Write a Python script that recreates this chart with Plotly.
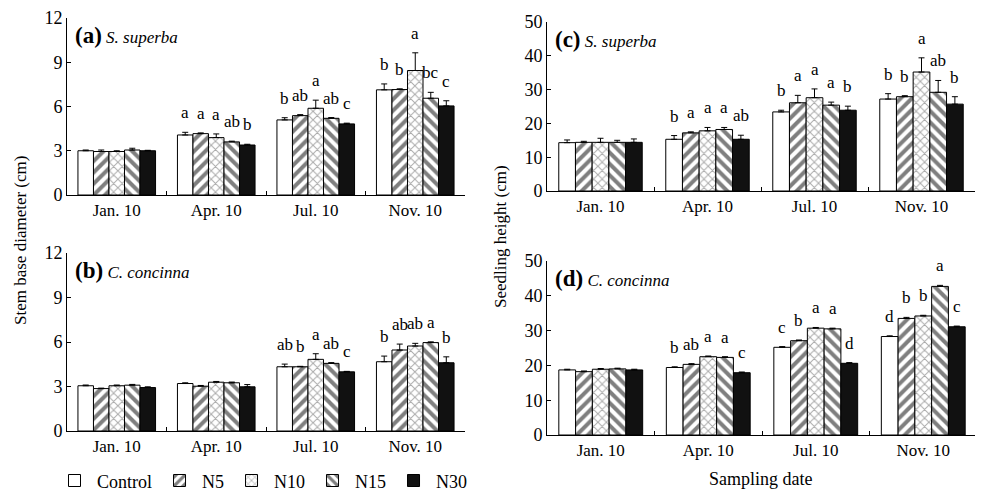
import plotly.graph_objects as go

dates = ["Jan. 10", "Apr. 10", "Jul. 10", "Nov. 10"]
treatments = ["Control", "N5", "N10", "N15", "N30"]

# (a) Stem base diameter, S. superba  -- values[treatment][date]
a_vals = [[3.0, 4.07, 5.09, 7.13], [2.95, 4.16, 5.38, 7.15], [2.95, 3.89, 5.88, 8.44],
          [3.05, 3.6, 5.2, 6.56], [3.0, 3.39, 4.82, 6.04]]
a_err = [[0.05, 0.18, 0.15, 0.4], [0.1, 0.05, 0.07, 0.05], [0.05, 0.25, 0.55, 1.2],
         [0.12, 0.05, 0.05, 0.4], [0.03, 0.05, 0.05, 0.35]]
a_let = [["", "a", "b", "b"], ["", "a", "ab", "b"], ["", "a", "a", "a"],
         ["", "ab", "ab", "bc"], ["", "b", "c", "c"]]

# (b) Stem base diameter, C. concinna
b_vals = [[3.05, 3.2, 4.33, 4.67], [2.86, 3.02, 4.33, 5.46], [3.05, 3.29, 4.83, 5.73],
          [3.09, 3.25, 4.56, 5.96], [2.93, 2.98, 3.99, 4.6]]
b_err = [[0.05, 0.05, 0.18, 0.38], [0.03, 0.05, 0.03, 0.4], [0.05, 0.05, 0.38, 0.18],
         [0.05, 0.05, 0.05, 0.05], [0.05, 0.15, 0.03, 0.4]]
b_let = [["", "", "ab", "b"], ["", "", "b", "ab"], ["", "", "a", "ab"],
         ["", "", "ab", "a"], ["", "", "c", "b"]]

# (c) Seedling height, S. superba
c_vals = [[14.3, 15.3, 23.4, 27.2], [14.4, 17.2, 26.1, 27.9], [14.4, 17.8, 27.6, 35.2],
          [14.4, 18.2, 25.4, 29.2], [14.4, 15.3, 23.9, 25.7]]
c_err = [[0.8, 1.1, 0.5, 1.6], [0.3, 0.3, 2.2, 0.3], [1.2, 1.0, 2.6, 4.2],
         [0.6, 0.6, 0.9, 3.5], [1.0, 1.2, 1.2, 2.2]]
c_let = [["", "b", "b", "b"], ["", "a", "a", "b"], ["", "a", "a", "a"],
         ["", "a", "a", "ab"], ["", "ab", "b", "b"]]

# (d) Seedling height, C. concinna
d_vals = [[18.7, 19.4, 25.2, 28.3], [18.2, 20.3, 27.1, 33.5], [18.9, 22.5, 30.7, 34.2],
          [19.0, 22.3, 30.5, 42.7], [18.7, 17.9, 20.6, 31.1]]
d_err = [[0.2, 0.2, 0.2, 0.2], [0.2, 0.2, 0.2, 0.3], [0.2, 0.2, 0.2, 0.2],
         [0.2, 0.2, 0.2, 0.3], [0.2, 0.2, 0.2, 0.2]]
d_let = [["", "b", "c", "d"], ["", "ab", "b", "b"], ["", "a", "a", "b"],
         ["", "a", "a", "a"], ["", "c", "d", "c"]]

SERIF = "Liberation Serif"
W, H, OFF = 975, 485, 8   # page body margin of 8px


def px(xp):
    return (xp - OFF) / W


def py(yp):
    return 1 - (yp - OFF) / H


styles = [
    dict(color="white", pattern=dict(shape="")),
    dict(color="white", pattern=dict(shape="/", fgcolor="black", bgcolor="white", size=8, solidity=0.5)),
    dict(color="white", pattern=dict(shape="x", fgcolor="#555555", bgcolor="white", size=6, solidity=0.3)),
    dict(color="white", pattern=dict(shape="\\", fgcolor="black", bgcolor="white", size=8, solidity=0.5)),
    dict(color="#111111", pattern=dict(shape="")),
]

panels = [
    dict(vals=a_vals, err=a_err, let=a_let, xa="x", ya="y", xd=[px(67), px(465)], yd=[py(195), py(18)],
         rng=[0, 12], dt=3, label="(a)", sp="S. superba"),
    dict(vals=b_vals, err=b_err, let=b_let, xa="x2", ya="y2", xd=[px(67), px(465)], yd=[py(431), py(253)],
         rng=[0, 12], dt=3, label="(b)", sp="C. concinna"),
    dict(vals=c_vals, err=c_err, let=c_let, xa="x3", ya="y3", xd=[px(547), px(975)], yd=[py(191), py(22)],
         rng=[0, 50], dt=10, label="(c)", sp="S. superba"),
    dict(vals=d_vals, err=d_err, let=d_let, xa="x4", ya="y4", xd=[px(547), px(977)], yd=[py(435), py(261)],
         rng=[0, 50], dt=10, label="(d)", sp="C. concinna"),
]

fig = go.Figure()
annotations = []
BARGAP = 0.22
bw = (1 - BARGAP) / len(treatments)

for pi, p in enumerate(panels):
    for ti, t in enumerate(treatments):
        fig.add_trace(go.Bar(
            x=dates, y=p["vals"][ti], name=t, xaxis=p["xa"], yaxis=p["ya"],
            marker=dict(color=styles[ti]["color"], pattern=styles[ti]["pattern"],
                        line=dict(color="black", width=1)),
            error_y=dict(type="data", array=p["err"][ti], arrayminus=[0] * len(dates),
                         symmetric=False, color="black", thickness=1, width=3),
            showlegend=(pi == 1), legendgroup=t,
        ))
        for di in range(len(dates)):
            txt = p["let"][ti][di]
            if not txt:
                continue
            xc = di - (1 - BARGAP) / 2 + bw * (ti + 0.5)
            annotations.append(dict(
                x=xc, y=p["vals"][ti][di] + p["err"][ti][di], xref=p["xa"], yref=p["ya"],
                text=txt, showarrow=False, yanchor="bottom", yshift=8,
                font=dict(family=SERIF, size=17, color="black")))
    xdom = "x domain" if p["xa"] == "x" else p["xa"] + " domain"
    ydom = "y domain" if p["ya"] == "y" else p["ya"] + " domain"
    annotations.append(dict(
        x=0.015, y=0.985, xref=xdom, yref=ydom, xanchor="left", yanchor="top", showarrow=False,
        text="<b><span style='font-size:23px'>" + p["label"] + "</span></b> <i>" + p["sp"] + "</i>",
        font=dict(family=SERIF, size=17, color="black")))

layout = dict(
    width=W, height=H, margin=dict(l=0, r=0, t=0, b=0, autoexpand=False),
    paper_bgcolor="white", plot_bgcolor="white",
    barmode="group", bargap=BARGAP, bargroupgap=0,
    font=dict(family=SERIF, size=17, color="black"),
    showlegend=True,
    legend=dict(orientation="h", x=px(52), y=-0.013, xanchor="left", yanchor="bottom",
                font=dict(family=SERIF, size=18, color="black"), traceorder="normal",
                bgcolor="rgba(0,0,0,0)", itemwidth=35),
)
for i, p in enumerate(panels):
    sfx = "" if i == 0 else str(i + 1)
    layout["xaxis" + sfx] = dict(
        domain=p["xd"], anchor=p["ya"], type="category", showline=True, linecolor="black",
        linewidth=1, ticks="inside", tickson="boundaries", ticklen=4, tickcolor="black",
        showgrid=False, zeroline=False, tickfont=dict(family=SERIF, size=17),
        range=[-0.5, 3.5], automargin=False)
    layout["yaxis" + sfx] = dict(
        domain=p["yd"], anchor=p["xa"], range=p["rng"], dtick=p["dt"], showline=True,
        linecolor="black", linewidth=1, ticks="inside", ticklen=4, tickcolor="black",
        showgrid=False, zeroline=False, tickfont=dict(family=SERIF, size=18), automargin=False)

annotations += [
    dict(x=px(20), y=py(241), xref="paper", yref="paper", text="Stem base diameter (cm)",
         xanchor="center", yanchor="middle",
         textangle=-90, showarrow=False, font=dict(family=SERIF, size=17, color="black")),
    dict(x=px(500), y=py(236), xref="paper", yref="paper", text="Seedling height (cm)",
         xanchor="center", yanchor="middle",
         textangle=-90, showarrow=False, font=dict(family=SERIF, size=17, color="black")),
    dict(x=px(760), y=py(479), xref="paper", yref="paper", text="Sampling date",
         xanchor="center", yanchor="middle",
         showarrow=False, font=dict(family=SERIF, size=18, color="black")),
]
layout["annotations"] = annotations
fig.update_layout(**layout)
fig.write_html("out.html")
